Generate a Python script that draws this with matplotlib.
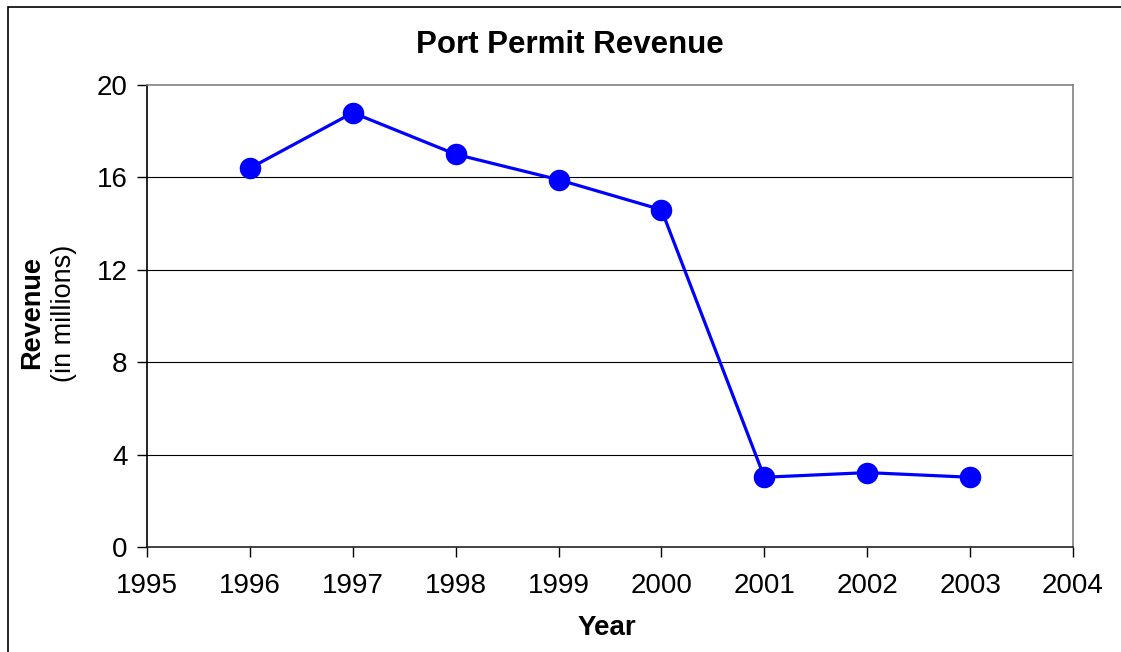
import matplotlib.pyplot as plt
from matplotlib.patches import Rectangle

plt.rcParams["font.family"] = ["Liberation Sans", "DejaVu Sans"]

years = [1996, 1997, 1998, 1999, 2000, 2001, 2002, 2003]
revenue = [16.4, 18.8, 17.0, 15.9, 14.6, 3.02, 3.22, 3.02]
x_ticks = list(range(1995, 2005))
y_ticks = [0, 4, 8, 12, 16, 20]

fig = plt.figure(figsize=(11.21, 6.52), dpi=100)
ax = fig.add_axes([147 / 1121, 105 / 652, 926 / 1121, 462 / 652])

# outer chart frame (only left and top edges are visible in the crop)
fig.patches.append(Rectangle((8 / 1121, -0.1), 1.2, 0.1 + (652 - 6.5) / 652,
                             transform=fig.transFigure, fill=False,
                             edgecolor="black", linewidth=1.2))

ax.plot(years, revenue, color="#0000FF", linewidth=2.3, marker="o",
        markersize=14.5, markerfacecolor="#0000FF", markeredgecolor="#0000FF",
        zorder=3)

ax.set_xlim(1995, 2004)
ax.set_ylim(0, 20)
ax.set_xticks(x_ticks)
ax.set_yticks(y_ticks)
ax.tick_params(axis="both", labelsize=20, length=7, width=1, color="black", direction="out")
ax.tick_params(axis="x", pad=12)
ax.tick_params(axis="y", pad=7)

for y in y_ticks[1:-1]:
    ax.axhline(y, color="black", linewidth=0.8, zorder=1)

ax.spines["left"].set_color("black")
ax.spines["bottom"].set_color("#222222")
ax.spines["top"].set_color("#808080")
ax.spines["right"].set_color("#808080")
for s in ax.spines.values():
    s.set_linewidth(1.2)

fig.text(570 / 1121, 1 - 45 / 652, "Port Permit Revenue", ha="center", va="center",
         fontsize=22.5, fontweight="bold")
fig.text(607 / 1121, 1 - 628 / 652, "Year", ha="center", va="center",
         fontsize=20, fontweight="bold")
fig.text(32 / 1121, 1 - 313 / 652, "Revenue", ha="center", va="center",
         rotation=90, fontsize=19.5, fontweight="bold")
fig.text(64 / 1121, 1 - 313 / 652, "(in millions)", ha="center", va="center",
         rotation=90, fontsize=19.5)

fig.savefig("out.png", dpi=100)
